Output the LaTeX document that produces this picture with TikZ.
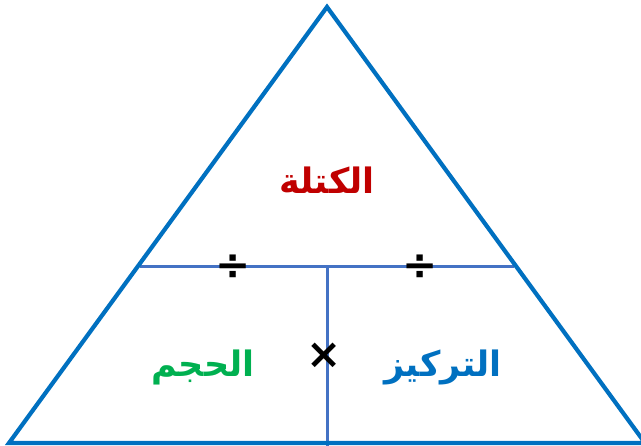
\documentclass[tikz,border=0pt]{standalone}
\usepackage{fontspec}
\TeXXeTstate=1
\newfontfamily\arabicfont[Script=Arabic]{DejaVu Sans}
\newfontfamily\symfont{DejaVu Sans}
\definecolor{triblue}{HTML}{0070C0}
\definecolor{lineblue}{HTML}{4472C4}
\definecolor{massred}{HTML}{C00000}
\definecolor{volgreen}{HTML}{00B050}
\tikzset{
  outer/.style={draw=triblue, line width=4.2pt, line join=miter},
  inner/.style={draw=lineblue, line width=3pt},
  word/.style={font=\arabicfont\bfseries\fontsize{35}{40}\selectfont, inner sep=0pt},
  opsym/.style={font=\symfont\bfseries\fontsize{42}{46}\selectfont, inner sep=0pt, text=black}
}
\begin{document}
\begin{tikzpicture}[x=1pt,y=-1pt]
\useasboundingbox (0,0) rectangle (641,446);
\begin{scope}
\clip (0,0) rectangle (641,446);
\coordinate (apex) at (327,7);
\coordinate (bl) at (9,443);
\coordinate (br) at (645,443);
\coordinate (ml) at (140,267);
\coordinate (mr) at (514,267);
\coordinate (mc) at (327,267);
\coordinate (bc) at (327,446);
\draw[inner] (ml) -- (mr);
\draw[inner] (mc) -- (bc);
\draw[outer] (apex) -- (bl) -- (br) -- cycle;
\end{scope}
\node[word, text=massred] (mass) at (327,180) {\beginR الكتلة\endR};
\node[word, text=volgreen] (vol) at (203,367) {\beginR الحجم\endR};
\node[word, text=triblue] (conc) at (443,367) {\beginR التركيز\endR};
\node[opsym] (d1) at (233,267) {÷};
\node[opsym] (d2) at (420,267) {÷};
\node[opsym] (mul) at (324,356) {×};
\end{tikzpicture}
\end{document}
